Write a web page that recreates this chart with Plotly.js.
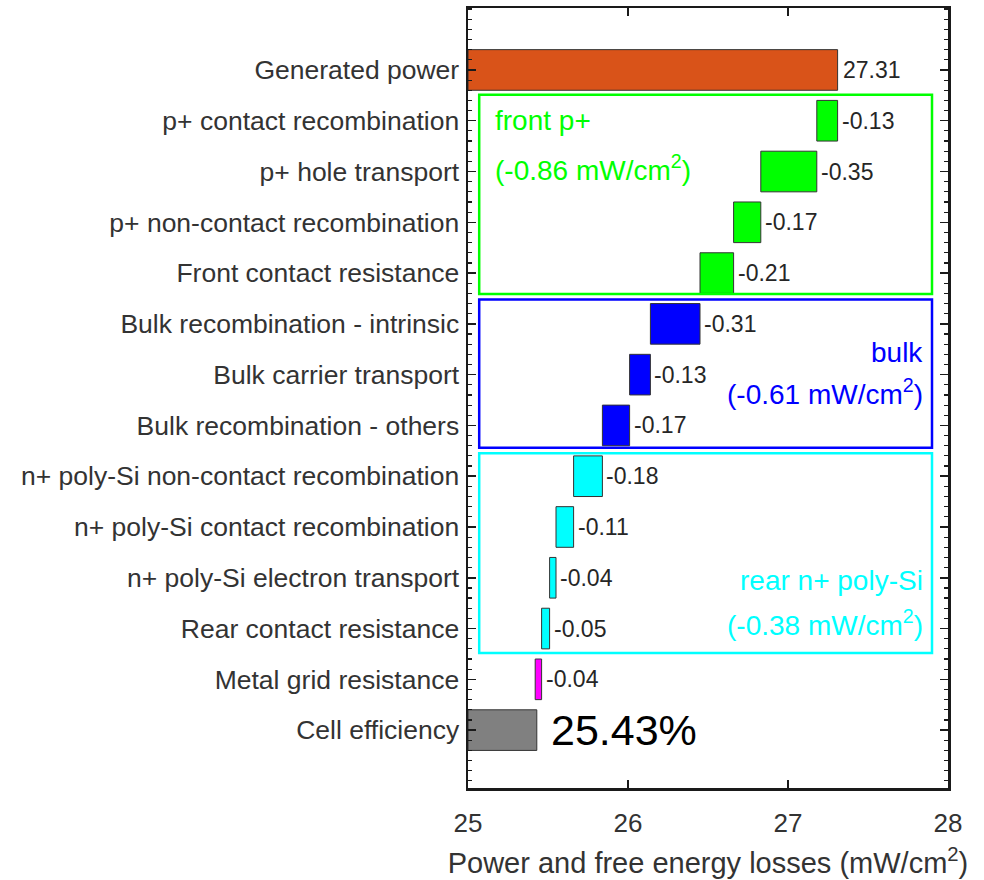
<!DOCTYPE html>
<html>
<head>
<meta charset="utf-8">
<script src="https://cdn.plot.ly/plotly-3.0.1.min.js"></script>
<style>html,body{margin:0;padding:0;background:#fff;}#chart{width:984px;height:880px;}</style>
</head>
<body>
<div id="chart"></div>
<script>
// ---- data ----
var categories = [
  "Generated power",
  "p+ contact recombination",
  "p+ hole transport",
  "p+ non-contact recombination",
  "Front contact resistance",
  "Bulk recombination - intrinsic",
  "Bulk carrier transport",
  "Bulk recombination - others",
  "n+ poly-Si non-contact recombination",
  "n+ poly-Si contact recombination",
  "n+ poly-Si electron transport",
  "Rear contact resistance",
  "Metal grid resistance",
  "Cell efficiency"
];
var generatedPower = 27.31;
var losses = [-0.13, -0.35, -0.17, -0.21, -0.31, -0.13, -0.17, -0.18, -0.11, -0.04, -0.05, -0.04];
var cellEfficiency = 25.43;
var groupNames = ["front p+", "bulk", "rear n+ poly-Si"];
var groupTotals = [-0.86, -0.61, -0.38];
var xTicks = [25, 26, 27, 28];

// ---- styles ----
var FONT = "Liberation Sans, Arial, Helvetica, sans-serif";
var TXT = "#262626";
var lossColors = ["#00FF00","#00FF00","#00FF00","#00FF00","#0000FF","#0000FF","#0000FF","#00FFFF","#00FFFF","#00FFFF","#00FFFF","#FF00FF"];
var groupColors = ["#00FF00", "#0000FF", "#00FFFF"];
var baseX = 25;

// ---- build waterfall ----
var ys = [], xs = [], bases = [], colors = [], annotations = [];
ys.push(0); bases.push(baseX); xs.push(generatedPower - baseX); colors.push("#D95319");
annotations.push({x: generatedPower, y: 0, xref: "x", yref: "y", text: generatedPower.toFixed(2),
  showarrow: false, xanchor: "left", xshift: 3, font: {family: FONT, size: 23, color: TXT}});
var cum = generatedPower;
for (var i = 0; i < losses.length; i++) {
  var next = cum + losses[i];
  ys.push(i + 1); bases.push(next); xs.push(-losses[i]); colors.push(lossColors[i]);
  annotations.push({x: cum, y: i + 1, xref: "x", yref: "y", text: losses[i].toFixed(2),
    showarrow: false, xanchor: "left", xshift: 2, font: {family: FONT, size: 23, color: TXT}});
  cum = next;
}
var lastIdx = categories.length - 1;
ys.push(lastIdx); bases.push(baseX); xs.push(cellEfficiency - baseX); colors.push("#808080");
annotations.push({x: cellEfficiency, y: lastIdx, xref: "x", yref: "y", text: cellEfficiency.toFixed(2) + "%",
  showarrow: false, xanchor: "left", xshift: 12, font: {family: FONT, size: 43, color: "#000"}});

// group labels
var gFont = function(c){ return {family: FONT, size: 28, color: c}; };
annotations.push({x: 25.155, y: 1.0, xref: "x", yref: "y", text: groupNames[0], showarrow: false, xanchor: "left", font: gFont(groupColors[0])});
annotations.push({x: 25.155, y: 1.93, xref: "x", yref: "y", text: "(" + groupTotals[0].toFixed(2) + " mW/cm<sup>2</sup>)", showarrow: false, xanchor: "left", font: gFont(groupColors[0])});
annotations.push({x: 27.855, y: 5.56, xref: "x", yref: "y", text: groupNames[1], showarrow: false, xanchor: "right", font: gFont(groupColors[1])});
annotations.push({x: 27.855, y: 6.35, xref: "x", yref: "y", text: "(" + groupTotals[1].toFixed(2) + " mW/cm<sup>2</sup>)", showarrow: false, xanchor: "right", font: gFont(groupColors[1])});
annotations.push({x: 27.855, y: 10.06, xref: "x", yref: "y", text: groupNames[2], showarrow: false, xanchor: "right", font: gFont(groupColors[2])});
annotations.push({x: 27.855, y: 10.9, xref: "x", yref: "y", text: "(" + groupTotals[2].toFixed(2) + " mW/cm<sup>2</sup>)", showarrow: false, xanchor: "right", font: gFont(groupColors[2])});

var shapes = [
  {type: "rect", xref: "x", yref: "y", x0: 25.07, x1: 27.9, y0: 0.49, y1: 4.41, line: {color: groupColors[0], width: 2.5}},
  {type: "rect", xref: "x", yref: "y", x0: 25.07, x1: 27.9, y0: 4.52, y1: 7.44, line: {color: groupColors[1], width: 2.5}},
  {type: "rect", xref: "x", yref: "y", x0: 25.07, x1: 27.9, y0: 7.55, y1: 11.48, line: {color: groupColors[2], width: 2.5}}
];

var trace = {
  type: "bar", orientation: "h", y: ys, x: xs, base: bases, width: 0.8,
  marker: {color: colors, line: {color: "#333333", width: 1}},
  hoverinfo: "skip"
};

var layout = {
  width: 984, height: 880,
  margin: {l: 468, r: 36, t: 8, b: 92},
  paper_bgcolor: "#fff", plot_bgcolor: "#fff",
  showlegend: false,
  font: {family: FONT, color: TXT},
  xaxis: {
    range: [25, 28], tickvals: xTicks, ticktext: xTicks.map(String),
    ticks: "inside", ticklen: 8, tickwidth: 1.5, tickcolor: "#1a1a1a",
    showline: true, linecolor: "#1a1a1a", linewidth: 2.5, mirror: "ticks",
    showgrid: false, zeroline: false,
    tickfont: {family: FONT, size: 26, color: "#333"}, ticklabelstandoff: 10,
    title: {text: "Power and free energy losses (mW/cm<sup>2</sup>)", font: {family: FONT, size: 29, color: "#333"}, standoff: 16}
  },
  yaxis: {
    range: [14.14, -1.22], tickvals: categories.map(function(c, i){ return i; }), ticktext: categories,
    ticks: "inside", ticklen: 8, tickwidth: 1.5, tickcolor: "#1a1a1a",
    minor: {dtick: 0.2, tick0: 0, ticks: "inside", ticklen: 4, tickwidth: 1.2, tickcolor: "#1a1a1a", showgrid: false},
    showline: true, linecolor: "#1a1a1a", linewidth: 2.5, mirror: "ticks",
    showgrid: false, zeroline: false,
    tickfont: {family: FONT, size: 26.5, color: "#333"}, ticklabelstandoff: 1
  },
  shapes: shapes,
  annotations: annotations
};

Plotly.newPlot("chart", [trace], layout, {displayModeBar: false, staticPlot: true});
</script>
</body>
</html>
